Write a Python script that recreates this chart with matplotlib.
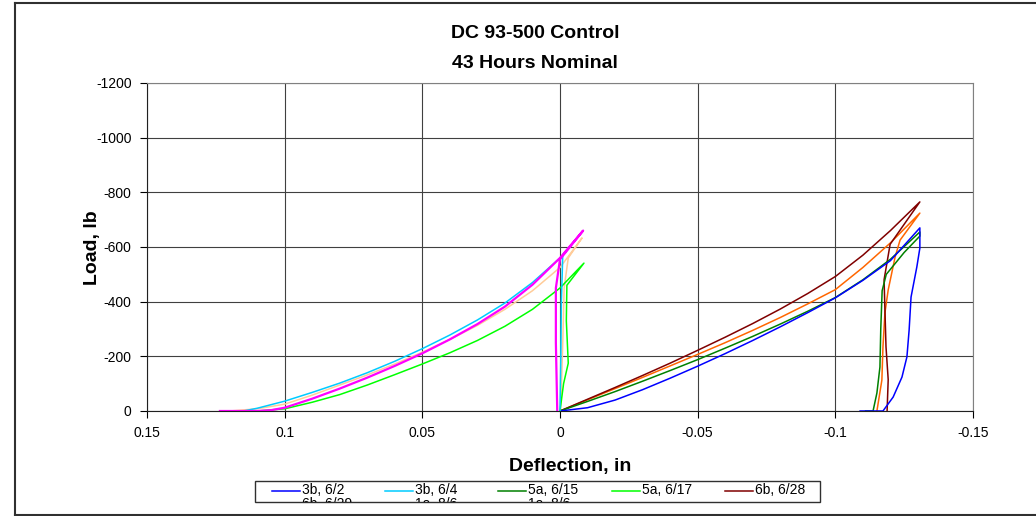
import matplotlib
matplotlib.use('Agg')
import matplotlib.pyplot as plt
from matplotlib.lines import Line2D
from matplotlib.patches import Rectangle

plt.rcParams['font.family'] = ['Liberation Sans', 'DejaVu Sans']
plt.rcParams['axes.unicode_minus'] = False

W, H = 1036, 516

# Deflection (in) and load (lb), one path per test
defl_3b_62 = [0.0, -0.01, -0.02, -0.03, -0.04, -0.05, -0.06, -0.07, -0.08, -0.09, -0.1,
              -0.11, -0.12, -0.1307,
              -0.1307, -0.1296, -0.1275, -0.1268, -0.126, -0.1242, -0.121, -0.1173, -0.109]
load_3b_62 = [0, -12, -40, -78, -120, -164, -210, -258, -308, -360, -414,
              -478, -550, -670,
              -596, -527, -417, -296, -198, -124, -51, 0, 0]

defl_3b_64 = [0.115, 0.11, 0.1, 0.09, 0.08, 0.07, 0.06, 0.05, 0.04, 0.03, 0.02, 0.01, 0.0, -0.0084,
              -0.001, -0.0005, -0.0003, 0.0]
load_3b_64 = [0, -10, -36, -68, -102, -140, -182, -228, -278, -333, -395, -470, -560, -660,
              -570, -400, -200, 0]

defl_5a_615 = [0.0, -0.01, -0.02, -0.03, -0.04, -0.05, -0.06, -0.07, -0.08, -0.09, -0.1,
               -0.11, -0.12, -0.1307,
               -0.1307, -0.125, -0.1185, -0.117, -0.1165, -0.1162, -0.1151, -0.1137, -0.111]
load_5a_615 = [0, -35, -71, -109, -148, -188, -230, -273, -318, -365, -415,
               -480, -555, -655,
               -640, -580, -500, -440, -300, -161, -66, 0, 0]

defl_5a_617 = [0.11, 0.1, 0.09, 0.08, 0.07, 0.06, 0.05, 0.04, 0.03, 0.02, 0.01, 0.0, -0.0087,
               -0.0025, -0.0023, -0.003, -0.0013, 0.0]
load_5a_617 = [0, -8, -32, -60, -95, -133, -172, -213, -258, -310, -372, -450, -541,
               -460, -330, -175, -100, 0]

defl_6b_628 = [0.0, -0.01, -0.02, -0.03, -0.04, -0.05, -0.06, -0.07, -0.08, -0.09, -0.1,
               -0.11, -0.12, -0.1307,
               -0.1199, -0.1177, -0.1184, -0.1192, -0.1188]
load_6b_628 = [0, -43, -86, -130, -175, -222, -270, -320, -373, -430, -492,
               -570, -660, -765,
               -610, -480, -235, -115, 0]

defl_6b_629 = [0.0, -0.01, -0.02, -0.03, -0.04, -0.05, -0.06, -0.07, -0.08, -0.09, -0.1,
               -0.11, -0.12, -0.1307,
               -0.1235, -0.1217, -0.1192, -0.118, -0.1173, -0.1169, -0.1151]
load_6b_629 = [0, -41, -82, -123, -165, -207, -250, -295, -342, -392, -444,
               -525, -615, -724,
               -625, -563, -443, -358, -235, -113, 0]

defl_1a_86a = [0.1235, 0.11, 0.105, 0.1, 0.09, 0.08, 0.07, 0.06, 0.05, 0.04, 0.03, 0.02, 0.01, 0.0,
               -0.0084, 0.0, 0.0015, 0.0015, 0.0012, 0.001]
load_1a_86a = [0, 0, -3, -12, -45, -82, -122, -165, -211, -262, -318, -382, -462, -560,
               -660, -555, -450, -250, -100, 0]

defl_1a_86b = [0.12, 0.11, 0.1, 0.09, 0.08, 0.07, 0.06, 0.05, 0.04, 0.03, 0.02, 0.01, 0.0, -0.008,
               -0.003, -0.0015, -0.001, -0.0005, 0.0]
load_1a_86b = [0, -8, -25, -58, -95, -132, -172, -215, -262, -313, -372, -440, -525, -633,
               -560, -450, -250, -80, 0]

labels = ['3b, 6/2', '3b, 6/4', '5a, 6/15', '5a, 6/17', '6b, 6/28', '6b, 6/29', '1a, 8/6', '1a, 8/6']
colors = ['#0000ff', '#00ccff', '#008000', '#00ff00', '#800000', '#ff6600', '#ff00ff', '#ffcc99']
series = [(defl_3b_62, load_3b_62), (defl_3b_64, load_3b_64), (defl_5a_615, load_5a_615),
          (defl_5a_617, load_5a_617), (defl_6b_628, load_6b_628), (defl_6b_629, load_6b_629),
          (defl_1a_86a, load_1a_86a), (defl_1a_86b, load_1a_86b)]

x_ticks = [0.15, 0.1, 0.05, 0, -0.05, -0.1, -0.15]
x_tick_labels = ['0.15', '0.1', '0.05', '0', '-0.05', '-0.1', '-0.15']
y_ticks = [0, -200, -400, -600, -800, -1000, -1200]


def fx(px):
    return px / W


def fy(py):
    return 1 - py / H


fig = plt.figure(figsize=(W / 100, H / 100), dpi=100)
ax_l, ax_r, ax_t, ax_b = 147, 973, 83, 411
ax = fig.add_axes([fx(ax_l), fy(ax_b), fx(ax_r) - fx(ax_l), fy(ax_t) - fy(ax_b)])

# draw order: magenta ends up on top of the left group
order = [7, 5, 4, 2, 0, 3, 1, 6]
for i in order:
    d, l = series[i]
    lw = 1.6 if i == 6 else 1.1
    ax.plot(d, l, color=colors[i], lw=lw)

ax.set_xlim(0.15, -0.15)
ax.set_ylim(0, -1200)
ax.set_xticks(x_ticks)
ax.set_xticklabels(x_tick_labels)
ax.set_yticks(y_ticks)
ax.grid(True, color='#404040', lw=0.8)
ax.set_axisbelow(True)
ax.tick_params(direction='out', length=5, width=0.8, labelsize=10, pad=6, colors='black')
for s in ['top', 'right']:
    ax.spines[s].set_color('#808080')
for s in ['left', 'bottom']:
    ax.spines[s].set_color('#202020')

ax.set_xlabel('Deflection, in', fontsize=14, fontweight='bold', va='center')
ax.xaxis.set_label_coords((570 - ax_l) / (ax_r - ax_l), (ax_b - 466) / (ax_b - ax_t))
ax.set_ylabel('Load, lb', fontsize=14, fontweight='bold', va='center')
ax.yaxis.set_label_coords((93 - ax_l) / (ax_r - ax_l), (ax_b - 248) / (ax_b - ax_t))

fig.text(fx(535), fy(34), 'DC 93-500 Control', ha='center', va='center', fontsize=14, fontweight='bold')
fig.text(fx(535), fy(63), '43 Hours Nominal', ha='center', va='center', fontsize=14, fontweight='bold')

# outer chart frame
frame_kw = dict(transform=fig.transFigure, color='#303030', lw=1.5)
fig.add_artist(Line2D([fx(15), fx(15)], [fy(3), fy(515)], **frame_kw))
fig.add_artist(Line2D([fx(15), 1.0], [fy(3), fy(3)], **frame_kw))
fig.add_artist(Line2D([fx(15), 1.0], [fy(515), fy(515)], **frame_kw))

# legend box with a clipped second row
box = Rectangle((fx(255), fy(502)), fx(820) - fx(255), fy(481) - fy(502),
                transform=fig.transFigure, fill=False, ec='#303030', lw=1.0)
fig.add_artist(box)
clip = Rectangle((fx(255), fy(502)), fx(820) - fx(255), fy(481) - fy(502),
                 transform=fig.transFigure, fill=False, ec='none')
fig.add_artist(clip)
col_x = [302, 415, 528, 642, 755]
for i, lab in enumerate(labels):
    row, col = divmod(i, 5)
    ty = 490.5 + row * 14
    tx = col_x[col]
    ln = Line2D([fx(tx - 30), fx(tx - 2)], [fy(ty), fy(ty)], transform=fig.transFigure,
                color=colors[i], lw=1.1)
    ln.set_clip_path(clip)
    fig.add_artist(ln)
    t = fig.text(fx(tx), fy(ty), lab, ha='left', va='center', fontsize=10)
    t.set_clip_path(clip)

fig.savefig('out.png', dpi=100)
